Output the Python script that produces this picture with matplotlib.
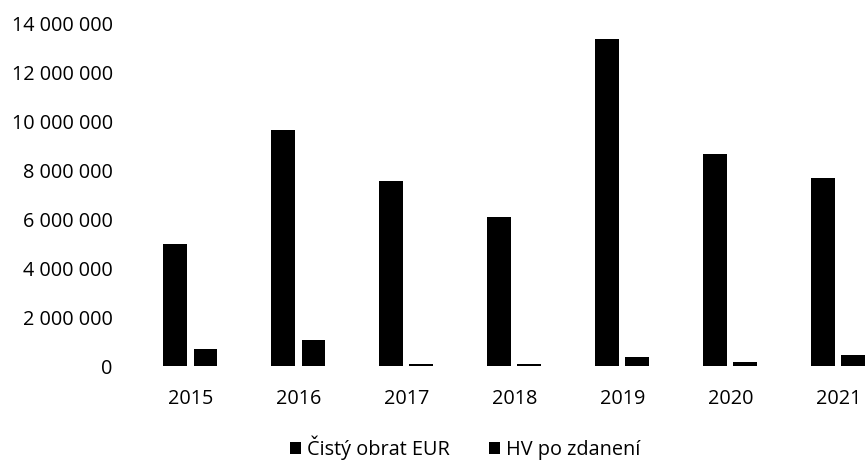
import numpy as np
import matplotlib.pyplot as plt
from matplotlib.ticker import FuncFormatter

years = ['2015', '2016', '2017', '2018', '2019', '2020', '2021']
obrat = [4980000, 9640000, 7570000, 6080000, 13370000, 8650000, 7690000]
hv = [710000, 1060000, 120000, 100000, 380000, 170000, 450000]
labels = ['Čistý obrat EUR', 'HV po zdanení']

plt.rcParams['font.family'] = ['Open Sans', 'DejaVu Sans']

fig = plt.figure(figsize=(8.66, 4.61), dpi=100)
ax = fig.add_axes([0.1576, 0.205, 0.8424, 0.745])

x = np.arange(len(years))
w = 0.222
ax.bar(x - 0.139, obrat, w, color='black', label=labels[0])
ax.bar(x + 0.139, hv, w, color='black', label=labels[1])

ax.set_xlim(-0.5, 6.255)
ax.set_ylim(0, 14000000)
ax.set_yticks(np.arange(0, 14000001, 2000000))
ax.yaxis.set_major_formatter(FuncFormatter(lambda v, p: f'{int(v):,}'.replace(',', ' ')))
ax.set_xticks(x)
ax.set_xticklabels(years)
ax.tick_params(axis='y', length=0, pad=17, labelsize=14.3, colors='black')
ax.tick_params(axis='x', length=0, pad=16, labelsize=14.3, colors='black')
for s in ax.spines.values():
    s.set_visible(False)

fig.legend(loc='center', bbox_to_anchor=(465 / 866, 1 - 448 / 461), ncol=2, frameon=False,
           fontsize=14.3, handlelength=0.55, handleheight=0.55, handletextpad=0.3,
           columnspacing=2.0)

fig.savefig('out.png', dpi=100)
